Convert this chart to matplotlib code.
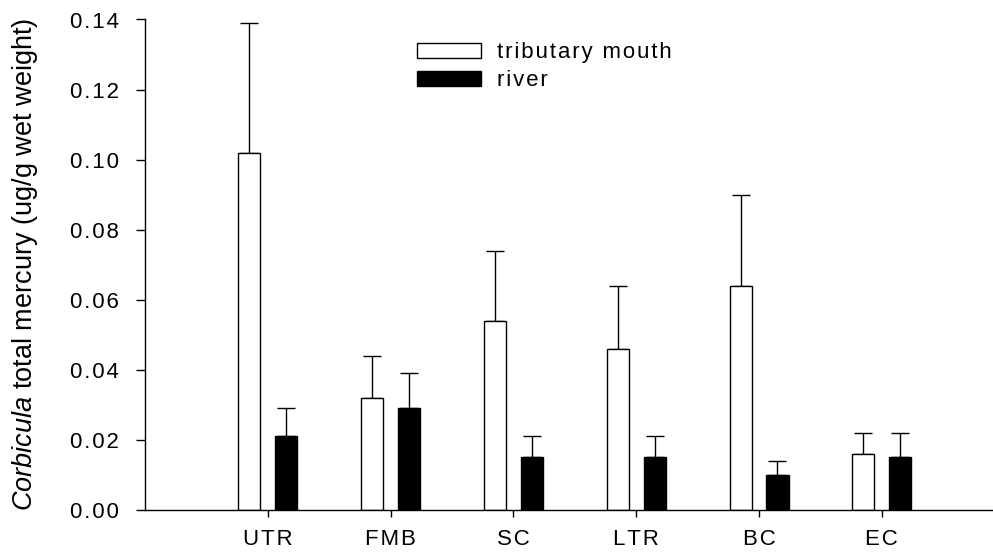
import matplotlib
matplotlib.use("Agg")
import matplotlib.pyplot as plt
import numpy as np

plt.rcParams['font.family'] = ['Liberation Sans', 'DejaVu Sans']
plt.rcParams['mathtext.fontset'] = 'custom'
plt.rcParams['mathtext.rm'] = 'Liberation Sans'
plt.rcParams['mathtext.it'] = 'Liberation Sans:italic'

sites = ["UTR", "FMB", "SC", "LTR", "BC", "EC"]
tributary = [0.102, 0.032, 0.054, 0.046, 0.064, 0.016]
tributary_err = [0.037, 0.012, 0.020, 0.018, 0.026, 0.006]
river = [0.021, 0.029, 0.015, 0.015, 0.010, 0.015]
river_err = [0.008, 0.010, 0.006, 0.006, 0.004, 0.007]
yticks = [0.00, 0.02, 0.04, 0.06, 0.08, 0.10, 0.12, 0.14]


def spaced(s):
    # wide letter spacing, as in the original figure
    return "\u200a".join(s)


x = np.arange(1, len(sites) + 1)
w = 0.18
off = 0.15
fs = 16

fig = plt.figure(figsize=(9.93, 5.54), dpi=100)
ax = fig.add_axes([145 / 993, 44 / 554, 848 / 993, 490.5 / 554])

ax.bar(x - off, tributary, w, color="white", edgecolor="black", linewidth=1.0,
       label=spaced("tributary") + "\u200a \u200a" + spaced("mouth"), zorder=2)
ax.bar(x + off, river, w, color="black", edgecolor="black", linewidth=1.0,
       label=spaced("river"), zorder=2)

ekw = dict(fmt="none", ecolor="black", elinewidth=1.0, capsize=6.5, capthick=1.0, zorder=1)
ax.errorbar(x - off, tributary, yerr=[np.zeros(len(x)), tributary_err], **ekw)
ax.errorbar(x + off, river, yerr=[np.zeros(len(x)), river_err], **ekw)

ax.set_xlim(0, 6.905)
ax.set_ylim(0, 0.14)
ax.set_xticks(x)
ax.set_xticklabels([spaced(s) for s in sites], fontsize=fs)
ax.set_yticks(yticks)
ax.set_yticklabels([spaced("%.2f" % v) for v in yticks], fontsize=fs)
ax.tick_params(axis="y", direction="out", length=6.5, width=1, pad=12)
ax.tick_params(axis="x", direction="out", length=5, width=1, pad=9)

for side in ["top", "right"]:
    ax.spines[side].set_visible(False)
ax.spines["left"].set_linewidth(1)
ax.spines["bottom"].set_linewidth(1)

ax.set_ylabel(r"$\it{Corbicula}$ total mercury (ug/g wet weight)", fontsize=19.5)
ax.yaxis.set_label_coords(-0.124, 0.5)

ax.legend(loc="upper left", bbox_to_anchor=(263 / 848, 1 - 14 / 490.5), frameon=False,
          fontsize=fs, handlelength=2.9, handleheight=0.7, handletextpad=0.7,
          labelspacing=0.3, borderaxespad=0)

fig.savefig("out.png", dpi=100)
